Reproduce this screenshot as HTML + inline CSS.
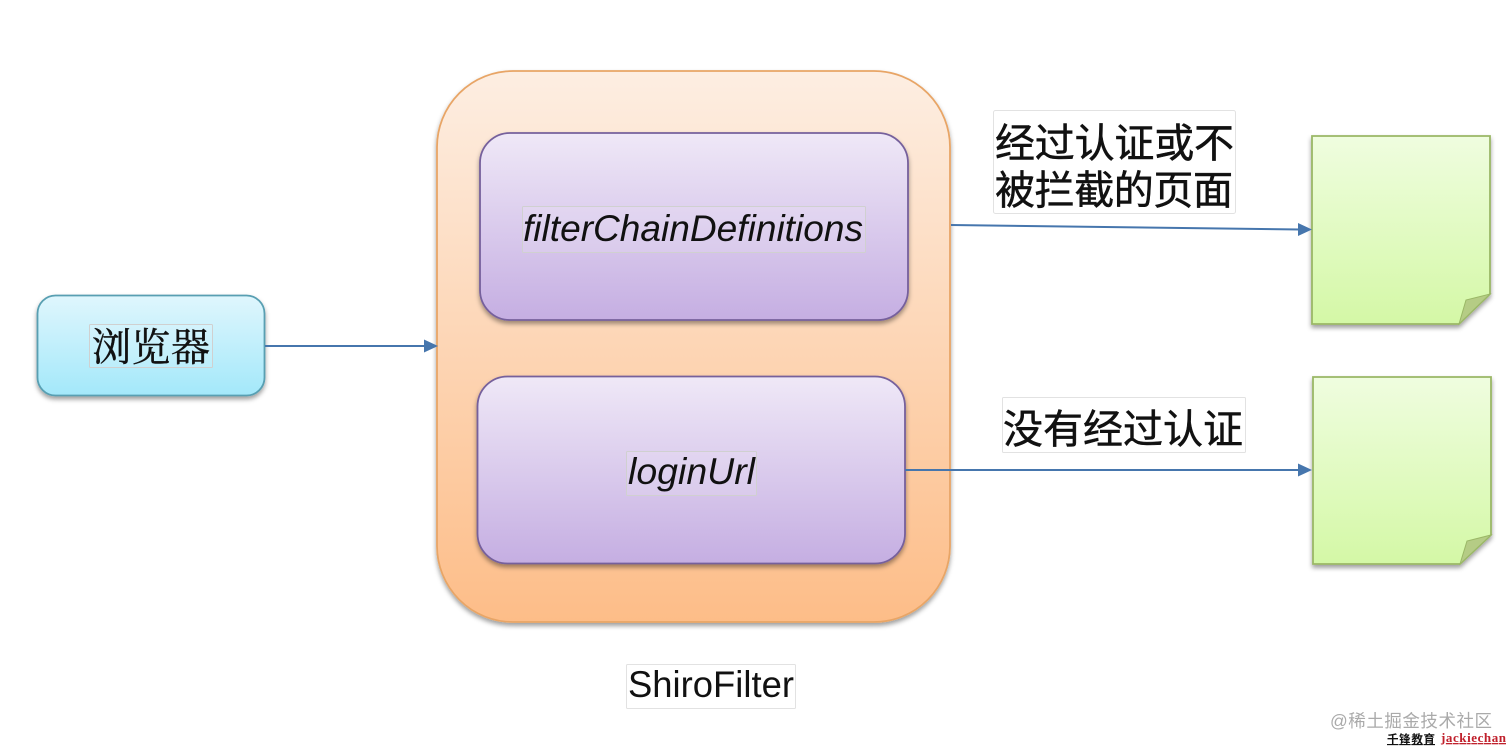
<!DOCTYPE html>
<html><head><meta charset="utf-8">
<style>html,body{margin:0;padding:0;background:#fff}svg{display:block}</style></head>
<body>
<svg width="1512" height="752" viewBox="0 0 1512 752" xmlns="http://www.w3.org/2000/svg">
<defs>
<linearGradient id="o" x1="0" y1="0" x2="0" y2="1"><stop offset="0" stop-color="#fdeee2"/><stop offset="1" stop-color="#fdbd88"/></linearGradient>
<linearGradient id="p" x1="0" y1="0" x2="0" y2="1"><stop offset="0" stop-color="#efe8f7"/><stop offset="1" stop-color="#c5aee2"/></linearGradient>
<linearGradient id="b" x1="0" y1="0" x2="0" y2="1"><stop offset="0" stop-color="#dff6fd"/><stop offset="1" stop-color="#a3e8fa"/></linearGradient>
<linearGradient id="g" x1="0" y1="0" x2="0" y2="1"><stop offset="0" stop-color="#effddf"/><stop offset="1" stop-color="#d4f8a6"/></linearGradient>
<filter id="s" x="-10%" y="-10%" width="120%" height="120%"><feDropShadow dx="0" dy="3" stdDeviation="2.500" flood-color="#000" flood-opacity=".38"/></filter>
</defs>
<g font-family="'Liberation Sans','Noto Sans CJK SC',sans-serif" fill="#111">
<rect x="437" y="71" width="513" height="551" rx="76" fill="url(#o)" stroke="#e8a566" stroke-width="1.800" filter="url(#s)"/>
<rect x="480" y="133" width="428" height="187" rx="30" fill="url(#p)" stroke="#76609c" stroke-width="1.800" filter="url(#s)"/>
<rect x="477.500" y="376.500" width="427.500" height="187" rx="30" fill="url(#p)" stroke="#76609c" stroke-width="1.800" filter="url(#s)"/>
<rect x="37.500" y="295.500" width="227" height="100" rx="18" fill="url(#b)" stroke="#589fb2" stroke-width="1.800" filter="url(#s)"/>
<path d="M1312 136H1490V294L1459 324H1312Z" fill="url(#g)" stroke="#9ab766" stroke-width="1.800" filter="url(#s)"/>
<path d="M1459 324L1466 300L1490 294Z" fill="#b5cc85" stroke="#9ab766" stroke-width="1"/>
<path d="M1313 377H1491V535L1460 564H1313Z" fill="url(#g)" stroke="#9ab766" stroke-width="1.800" filter="url(#s)"/>
<path d="M1460 564L1467 541L1491 535Z" fill="#b5cc85" stroke="#9ab766" stroke-width="1"/>
<g stroke="#4676ad" stroke-width="2" fill="none">
<path d="M265 346H426"/><path d="M951 225L1300 229.500"/><path d="M905 470H1300"/>
</g>
<g fill="#4676ad">
<path d="M438 346L424 339.500V352.500Z"/><path d="M1312 229.500L1298 223V236Z"/><path d="M1312 470L1298 463.500V476.500Z"/>
</g>
<g fill="#fff" fill-opacity=".12" stroke="#d0d0d0" stroke-width="1">
<rect x="89.500" y="324.500" width="123" height="43" rx="1"/>
<rect x="522.500" y="206.500" width="343" height="46" rx="1"/>
<rect x="626.500" y="451.500" width="130" height="44" rx="1"/>
</g>
<g fill="#fff" stroke="#e2e2e2" stroke-width="1">
<rect x="993.500" y="110.500" width="242" height="103" rx="2"/>
<rect x="1002.500" y="397.500" width="243" height="55" rx="1"/>
<rect x="626.500" y="664.500" width="169" height="44" rx="1"/>
</g>
<text x="151" y="361" font-size="39" text-anchor="middle" textLength="118" stroke="#111" stroke-width=".4" font-family="'Noto Serif CJK SC',serif">浏览器</text>
<text x="523" y="241" font-size="37" font-style="italic" textLength="340" lengthAdjust="spacingAndGlyphs">filterChainDefinitions</text>
<text x="628" y="484" font-size="37" font-style="italic" textLength="127" lengthAdjust="spacingAndGlyphs">loginUrl</text>
<text x="995" y="157" font-size="40" textLength="239" stroke="#111" stroke-width=".5">经过认证或不</text>
<text x="995" y="204" font-size="40" textLength="238" stroke="#111" stroke-width=".5">被拦截的页面</text>
<text x="1003" y="443" font-size="40" textLength="240" stroke="#111" stroke-width=".5">没有经过认证</text>
<text x="628" y="697" font-size="37" textLength="166" lengthAdjust="spacingAndGlyphs">ShiroFilter</text>
<text x="1330" y="727" font-size="17.500" fill="#aaa" textLength="162">@稀土掘金技术社区</text>
<text x="1387" y="743" font-size="11.500" font-weight="bold" fill="#111" text-decoration="underline" textLength="48">千锋教育</text>
<text x="1441" y="742" font-size="13" font-weight="bold" fill="#c0202c" font-family="'Liberation Serif',serif" text-decoration="underline" textLength="65">jackiechan</text>
</g>
</svg>
</body></html>
